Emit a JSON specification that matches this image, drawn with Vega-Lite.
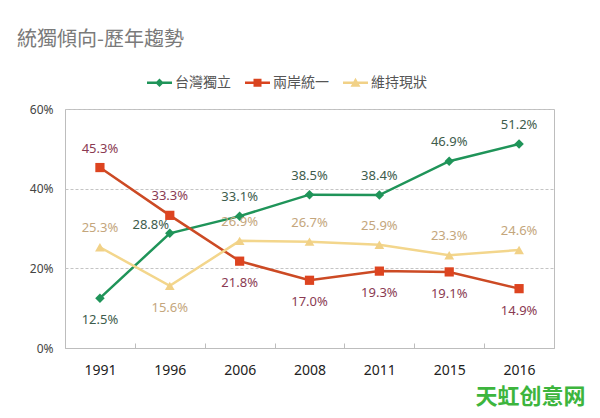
{
  "$schema": "https://vega.github.io/schema/vega-lite/v6.json",
  "width": 489,
  "height": 239,
  "autosize": "none",
  "padding": {"left": 65, "top": 109, "right": 46, "bottom": 70},
  "background": "white",
  "config": {"view": {"stroke": "#bdbdbd", "strokeWidth": 1}, "font": "Noto Sans CJK TC"},
  "title": {"text": "統獨傾向-歷年趨勢", "anchor": "start", "frame": "group", "dx": -48, "offset": 20, "fontSize": 20, "fontWeight": "normal", "color": "#7a7a7a", "font": "Noto Sans CJK TC"},
  "data": {"values": [
    {"year": "1991", "s": "台灣獨立", "v": 0.125},
    {"year": "1996", "s": "台灣獨立", "v": 0.288},
    {"year": "2006", "s": "台灣獨立", "v": 0.331},
    {"year": "2008", "s": "台灣獨立", "v": 0.385},
    {"year": "2011", "s": "台灣獨立", "v": 0.384},
    {"year": "2015", "s": "台灣獨立", "v": 0.469},
    {"year": "2016", "s": "台灣獨立", "v": 0.512},
    {"year": "1991", "s": "兩岸統一", "v": 0.453},
    {"year": "1996", "s": "兩岸統一", "v": 0.333},
    {"year": "2006", "s": "兩岸統一", "v": 0.218},
    {"year": "2008", "s": "兩岸統一", "v": 0.170},
    {"year": "2011", "s": "兩岸統一", "v": 0.193},
    {"year": "2015", "s": "兩岸統一", "v": 0.191},
    {"year": "2016", "s": "兩岸統一", "v": 0.149},
    {"year": "1991", "s": "維持現狀", "v": 0.253},
    {"year": "1996", "s": "維持現狀", "v": 0.156},
    {"year": "2006", "s": "維持現狀", "v": 0.269},
    {"year": "2008", "s": "維持現狀", "v": 0.267},
    {"year": "2011", "s": "維持現狀", "v": 0.259},
    {"year": "2015", "s": "維持現狀", "v": 0.233},
    {"year": "2016", "s": "維持現狀", "v": 0.246}
  ]},
  "encoding": {
    "x": {"field": "year", "type": "ordinal", "scale": {"type": "band", "paddingInner": 0, "paddingOuter": 0},
      "axis": {"title": "天虹创意网", "titleX": 410, "titleY": 48, "titleAlign": "left", "titleBaseline": "middle", "titleFont": "Noto Sans CJK SC", "titleFontWeight": "bold", "titleFontSize": 22, "titleColor": "#3db53d",
        "labelAngle": 0, "labelFontSize": 14, "labelColor": "#222", "labelFont": "Noto Sans", "labelPadding": 20, "tickBand": "extent", "tickSize": -5, "tickColor": "#bdbdbd", "domainColor": "#bdbdbd"}},
    "y": {"field": "v", "type": "quantitative", "scale": {"domain": [0, 0.6]},
      "axis": {"title": null, "values": [0, 0.2, 0.4, 0.6], "format": ".0%", "labelFontSize": 12, "labelColor": "#444", "labelFont": "Noto Sans", "ticks": false, "domain": false, "gridDash": [3, 2], "gridColor": "#c4c4c4", "labelPadding": 12}}
  },
  "layer": [
    {"mark": {"type": "line", "strokeWidth": 2.5},
     "encoding": {"color": {"field": "s", "type": "nominal",
        "scale": {"domain": ["台灣獨立", "兩岸統一", "維持現狀"], "range": ["#1f9459", "#cc4a24", "#f3d68c"]},
        "legend": {"orient": "none", "legendX": 82, "legendY": -39, "direction": "horizontal", "title": null, "symbolSize": 625, "labelFontSize": 14, "labelColor": "#555", "labelFont": "Noto Sans CJK TC", "columnPadding": 14, "labelOffset": 3, "symbolStrokeWidth": 0,
          "encode": {"symbols": {"update": {
            "fill": {"signal": "datum.value === '台灣獨立' ? '#1f9459' : datum.value === '兩岸統一' ? '#d9441f' : '#f1d187'"},
            "stroke": {"value": "transparent"},
            "strokeWidth": {"value": 0},
            "shape": {"signal": "datum.value === '台灣獨立' ? 'M-1,-0.1H1V0.1H-1Z M0,-0.34L0.34,0L0,0.34L-0.34,0Z' : datum.value === '兩岸統一' ? 'M-1,-0.1H1V0.1H-1Z M-0.32,-0.32H0.32V0.32H-0.32Z' : 'M-1,-0.1H1V0.1H-1Z M0,-0.4L0.4,0.32L-0.4,0.32Z'"}
          }}}}}}},
    {"transform": [{"filter": "datum.s === '台灣獨立'"}],
     "mark": {"type": "point", "filled": true, "opacity": 1, "size": 90, "shape": "diamond", "color": "#1f9459"}},
    {"transform": [{"filter": "datum.s === '兩岸統一'"}],
     "mark": {"type": "point", "filled": true, "opacity": 1, "size": 85, "shape": "square", "color": "#dd4420"}},
    {"transform": [{"filter": "datum.s === '維持現狀'"}],
     "mark": {"type": "point", "filled": true, "opacity": 1, "size": 95, "shape": "triangle-up", "color": "#f1d187"}},
    {"transform": [{"filter": "!((datum.s === '兩岸統一' && datum.year !== '1991' && datum.year !== '1996') || (datum.s === '台灣獨立' && datum.year === '1991') || (datum.s === '維持現狀' && datum.year === '1996') || (datum.s === '台灣獨立' && datum.year === '1996'))"}],
     "mark": {"type": "text", "dy": -19, "fontSize": 13, "font": "Noto Sans", "baseline": "middle"},
     "encoding": {"text": {"field": "v", "format": ".1%"},
       "fill": {"condition": [{"test": "datum.s === '台灣獨立'", "value": "#3d5c4c"}, {"test": "datum.s === '兩岸統一'", "value": "#8a3a52"}], "value": "#c4a67c"}}},
    {"transform": [{"filter": "(datum.s === '兩岸統一' && datum.year !== '1991' && datum.year !== '1996') || (datum.s === '台灣獨立' && datum.year === '1991') || (datum.s === '維持現狀' && datum.year === '1996')"}],
     "mark": {"type": "text", "dy": 22, "fontSize": 13, "font": "Noto Sans", "baseline": "middle"},
     "encoding": {"text": {"field": "v", "format": ".1%"},
       "fill": {"condition": [{"test": "datum.s === '台灣獨立'", "value": "#3d5c4c"}, {"test": "datum.s === '兩岸統一'", "value": "#8a3a52"}], "value": "#c4a67c"}}},
    {"transform": [{"filter": "datum.s === '台灣獨立' && datum.year === '1996'"}],
     "mark": {"type": "text", "dy": -8, "dx": -19, "fontSize": 13, "font": "Noto Sans", "baseline": "middle", "fill": "#3d5c4c"},
     "encoding": {"text": {"field": "v", "format": ".1%"}}}
  ]
}
